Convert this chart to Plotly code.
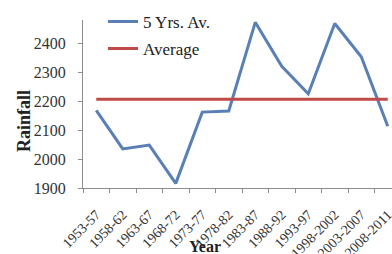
import plotly.graph_objects as go

periods = ["1953-57", "1958-62", "1963-67", "1968-72", "1973-77", "1978-82",
           "1983-87", "1988-92", "1993-97", "1998-2002", "2003-2007", "2008-2011"]
five_yr_avg = [2168, 2035, 2048, 1916, 2162, 2166, 2472, 2320, 2225, 2468, 2353, 2113]
overall_avg = [2206] * len(periods)

serif = "Liberation Serif, Times New Roman, serif"

fig = go.Figure()
fig.add_trace(go.Scatter(x=periods, y=five_yr_avg, mode="lines", name="5 Yrs. Av.",
                         line=dict(color="#5A7FB5", width=3), legendgroup="a"))
fig.add_trace(go.Scatter(x=periods, y=overall_avg, mode="lines", name="Average",
                         line=dict(color="#BE4B48", width=3), legendgroup="b"))

L, T, B = 83, 20, 66
W, H = 392, 254
pw, ph = W - L, H - T - B

fig.update_layout(
    width=W, height=H,
    margin=dict(l=L, r=0, t=T, b=B),
    paper_bgcolor="white", plot_bgcolor="white",
    font=dict(family=serif, color="#333333"),
    showlegend=True,
    legend=dict(x=(103 - L) / pw, y=1.096, xanchor="left", yanchor="top",
                bgcolor="rgba(0,0,0,0)", font=dict(size=17, family=serif, color="#222222"),
                traceorder="grouped", tracegroupgap=2, itemwidth=30),
    xaxis=dict(type="category", range=[-0.5, 11.16], showgrid=False, automargin=False,
               showline=True, linecolor="#8C8C8C", linewidth=1,
               ticks="outside", tickson="boundaries", ticklen=4, tickcolor="#8C8C8C",
               tickangle=-45, ticklabelstandoff=12,
               tickfont=dict(size=14, family=serif, color="#333333")),
    yaxis=dict(range=[1900, 2480], tickvals=[1900, 2000, 2100, 2200, 2300, 2400],
               showgrid=False, zeroline=False, automargin=False,
               showline=True, linecolor="#8C8C8C", linewidth=1,
               ticks="outside", ticklen=4, tickcolor="#8C8C8C", ticklabelstandoff=9,
               tickfont=dict(size=16, family=serif, color="#333333")),
    annotations=[
        dict(text="<b>Year</b>", xref="paper", yref="paper",
             x=(205 - L) / pw, y=-(246 - (T + ph)) / ph, xanchor="center", yanchor="middle",
             showarrow=False, font=dict(size=16, family=serif, color="#222222")),
        dict(text="<b>Rainfall</b>", xref="paper", yref="paper", textangle=-90,
             x=(24 - L) / pw, y=((T + ph) - 121) / ph, xanchor="center", yanchor="middle",
             showarrow=False, font=dict(size=18, family=serif, color="#222222")),
    ],
)

fig.write_html("out.html", config={"displayModeBar": False},
               post_script="document.body.style.margin='0';document.body.style.overflow='hidden';")
